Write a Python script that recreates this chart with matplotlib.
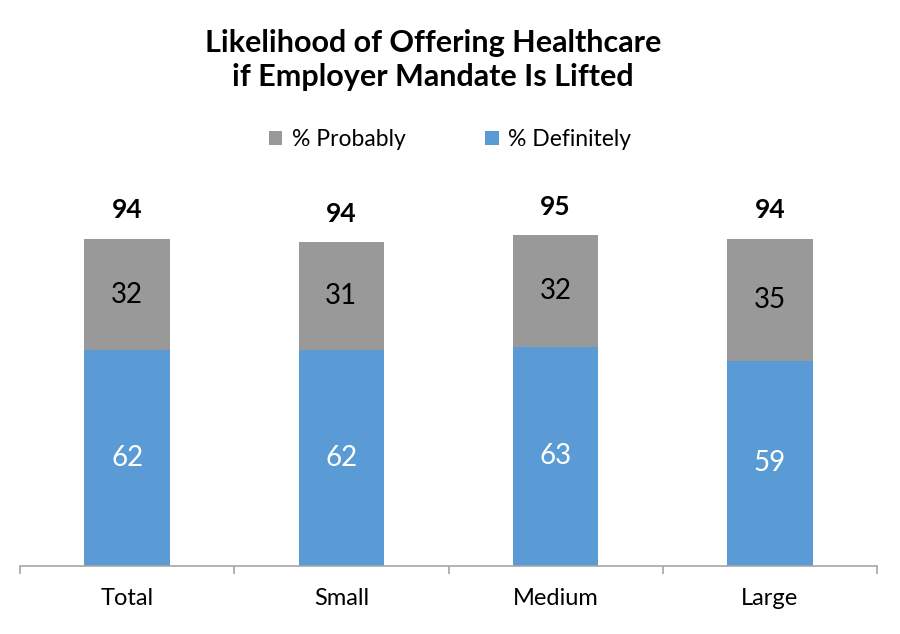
import matplotlib.pyplot as plt
import numpy as np

plt.rcParams['font.family'] = ['Lato', 'DejaVu Sans']

categories = ['Total', 'Small', 'Medium', 'Large']
definitely = [62, 62, 63, 59]
probably = [32, 31, 32, 35]
totals = [94, 94, 95, 94]

blue = '#5B9BD5'
gray = '#999999'

fig = plt.figure(figsize=(9, 6.34), dpi=100)
ax = fig.add_axes([20 / 900, 1 - 566 / 634, 857 / 900, 348 / 634])

x = np.arange(len(categories))
b1 = ax.bar(x, definitely, width=0.4, color=blue, label='% Definitely')
b2 = ax.bar(x, probably, width=0.4, bottom=definitely, color=gray, label='% Probably')

for i in range(len(categories)):
    ax.text(x[i], definitely[i] / 2, str(definitely[i]), ha='center', va='center',
            color='white', fontsize=20)
    ax.text(x[i], definitely[i] + probably[i] / 2, str(probably[i]), ha='center',
            va='center', color='black', fontsize=20)
    ax.annotate(str(totals[i]), (x[i], definitely[i] + probably[i]),
                xytext=(0, 12), textcoords='offset points', ha='center', va='bottom',
                fontsize=19, fontweight='bold', annotation_clip=False)

ax.set_xlim(-0.5, len(categories) - 0.5)
ax.set_ylim(0, 100)
ax.set_yticks([])
for s in ['left', 'right', 'top']:
    ax.spines[s].set_visible(False)
ax.spines['bottom'].set_color('#A6A6A6')
ax.spines['bottom'].set_linewidth(1.2)

ax.set_xticks(x)
ax.set_xticklabels(categories, fontsize=17)
ax.tick_params(axis='x', which='major', length=0, pad=16)
ax.set_xticks(np.arange(-0.5, len(categories)), minor=True)
ax.tick_params(axis='x', which='minor', length=6, color='#A6A6A6', width=1.2)

fig.text(0.481, 0.905, 'Likelihood of Offering Healthcare\nif Employer Mandate Is Lifted',
         ha='center', va='center', fontsize=22, fontweight='bold', linespacing=1.25)

fig.legend([b2, b1], ['% Probably', '% Definitely'], loc='center',
           bbox_to_anchor=(0.5, 0.78), ncol=2, frameon=False, fontsize=16.5,
           handlelength=0.6, handleheight=0.6, handletextpad=0.4, columnspacing=3.5)

fig.savefig('out.png', dpi=100)
